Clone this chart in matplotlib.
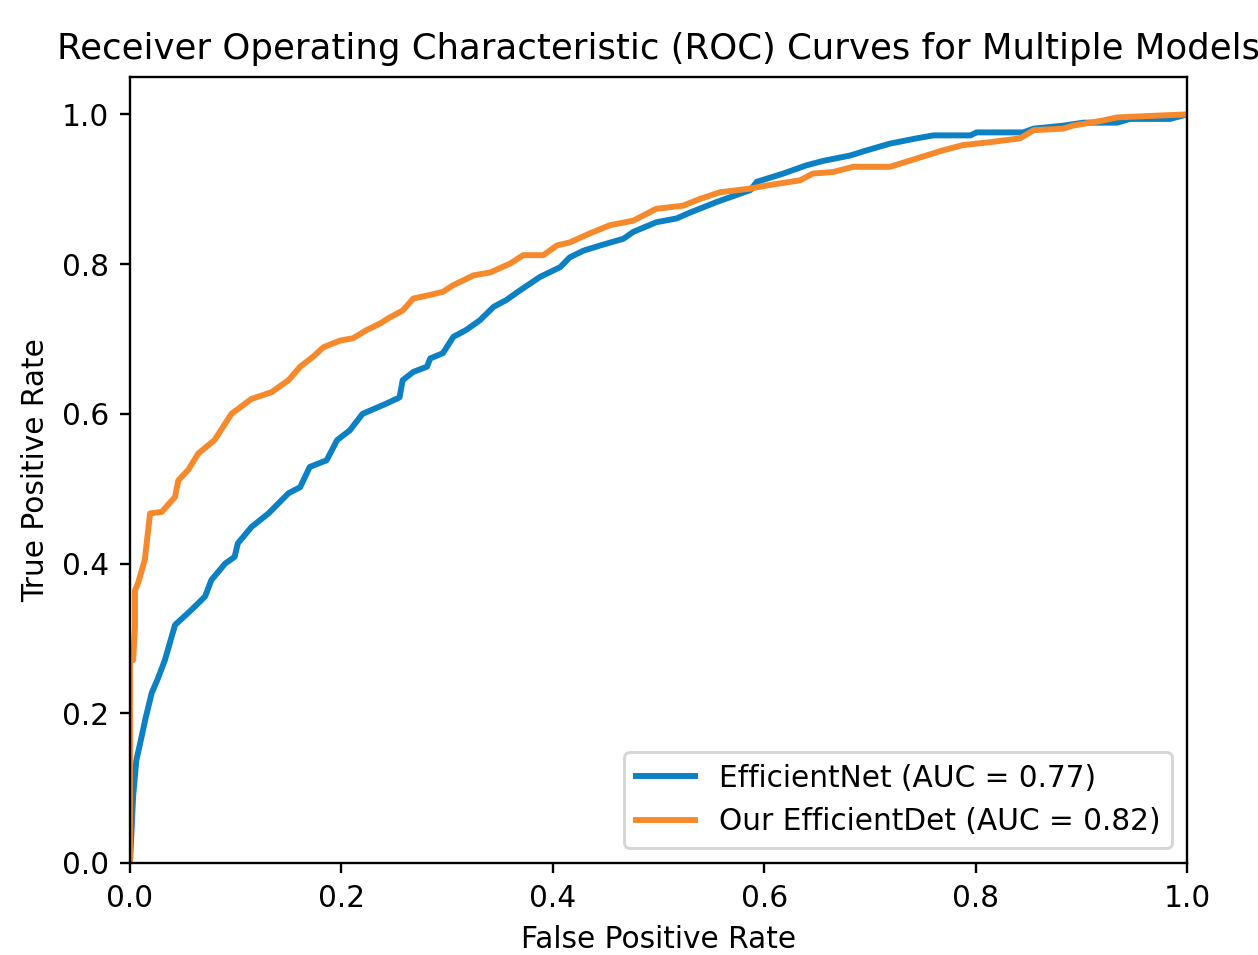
import matplotlib
matplotlib.use("Agg")
import matplotlib.pyplot as plt

# ROC points (false positive rate, true positive rate)
effnet_fpr = [0.0, 0.001, 0.003, 0.006, 0.011, 0.015, 0.0205, 0.026, 0.033, 0.0426,
              0.058, 0.071, 0.077, 0.09, 0.099, 0.102, 0.115, 0.131, 0.150, 0.161,
              0.170, 0.186, 0.196, 0.208, 0.220, 0.243, 0.255, 0.258, 0.268, 0.281,
              0.284, 0.296, 0.306, 0.318, 0.331, 0.344, 0.356, 0.369, 0.388, 0.407,
              0.416, 0.429, 0.445, 0.467, 0.476, 0.498, 0.517, 0.530, 0.555, 0.587,
              0.593, 0.618, 0.640, 0.656, 0.681, 0.697, 0.719, 0.744, 0.760, 0.795,
              0.801, 0.845, 0.855, 0.883, 0.902, 0.934, 0.946, 0.984, 1.0]
effnet_tpr = [0.0, 0.03, 0.09, 0.137, 0.169, 0.195, 0.227, 0.245, 0.271, 0.318,
              0.338, 0.356, 0.378, 0.400, 0.409, 0.427, 0.449, 0.467, 0.494, 0.502,
              0.529, 0.538, 0.565, 0.578, 0.600, 0.614, 0.622, 0.645, 0.656, 0.663,
              0.674, 0.681, 0.703, 0.712, 0.725, 0.743, 0.752, 0.765, 0.783, 0.796,
              0.809, 0.818, 0.825, 0.834, 0.843, 0.856, 0.861, 0.869, 0.883, 0.899,
              0.910, 0.921, 0.932, 0.938, 0.945, 0.952, 0.961, 0.968, 0.972, 0.972,
              0.976, 0.976, 0.981, 0.985, 0.989, 0.989, 0.994, 0.994, 1.0]

effdet_fpr = [0.0, 0.0, 0.003, 0.0047, 0.0047, 0.0077, 0.014, 0.019, 0.030, 0.0426,
              0.0457, 0.055, 0.0646, 0.080, 0.096, 0.115, 0.134, 0.150, 0.161, 0.173,
              0.183, 0.199, 0.211, 0.224, 0.237, 0.246, 0.258, 0.268, 0.281, 0.296,
              0.306, 0.325, 0.341, 0.360, 0.372, 0.391, 0.404, 0.416, 0.435, 0.454,
              0.476, 0.498, 0.523, 0.539, 0.558, 0.587, 0.602, 0.634, 0.646, 0.665,
              0.684, 0.719, 0.744, 0.769, 0.788, 0.814, 0.842, 0.855, 0.883, 0.892,
              0.921, 0.934, 0.965, 1.0]
effdet_tpr = [0.0, 0.27, 0.271, 0.315, 0.364, 0.374, 0.405, 0.467, 0.469, 0.489,
              0.511, 0.525, 0.547, 0.565, 0.600, 0.620, 0.629, 0.645, 0.663, 0.676,
              0.689, 0.698, 0.701, 0.712, 0.721, 0.729, 0.738, 0.754, 0.758, 0.763,
              0.772, 0.785, 0.789, 0.801, 0.812, 0.812, 0.825, 0.829, 0.841, 0.852,
              0.858, 0.874, 0.878, 0.887, 0.896, 0.901, 0.905, 0.912, 0.921, 0.923,
              0.930, 0.930, 0.941, 0.952, 0.959, 0.963, 0.968, 0.979, 0.981, 0.985,
              0.992, 0.996, 0.998, 1.0]

labels = ["EfficientNet (AUC = 0.77)", "Our EfficientDet (AUC = 0.82)"]
colors = ["#0b80c2", "#f5892b"]

dpi = 213
fig = plt.figure(figsize=(1258 / dpi, 955 / dpi), dpi=dpi)
# axes placed in pixel terms of the 1258x955 canvas
ax = fig.add_axes([130 / 1258, 92 / 955, 1057 / 1258, 786 / 955])

ax.plot(effnet_fpr, effnet_tpr, color=colors[0], lw=2, label=labels[0])
ax.plot(effdet_fpr, effdet_tpr, color=colors[1], lw=2, label=labels[1])

ax.set_xlim(0.0, 1.0)
ax.set_ylim(0.0, 1.05)
ax.set_xlabel("False Positive Rate")
ax.set_ylabel("True Positive Rate")
ax.set_title("Receiver Operating Characteristic (ROC) Curves for Multiple Models")
ax.legend(loc="lower right")

fig.savefig("out.png", dpi=dpi)
